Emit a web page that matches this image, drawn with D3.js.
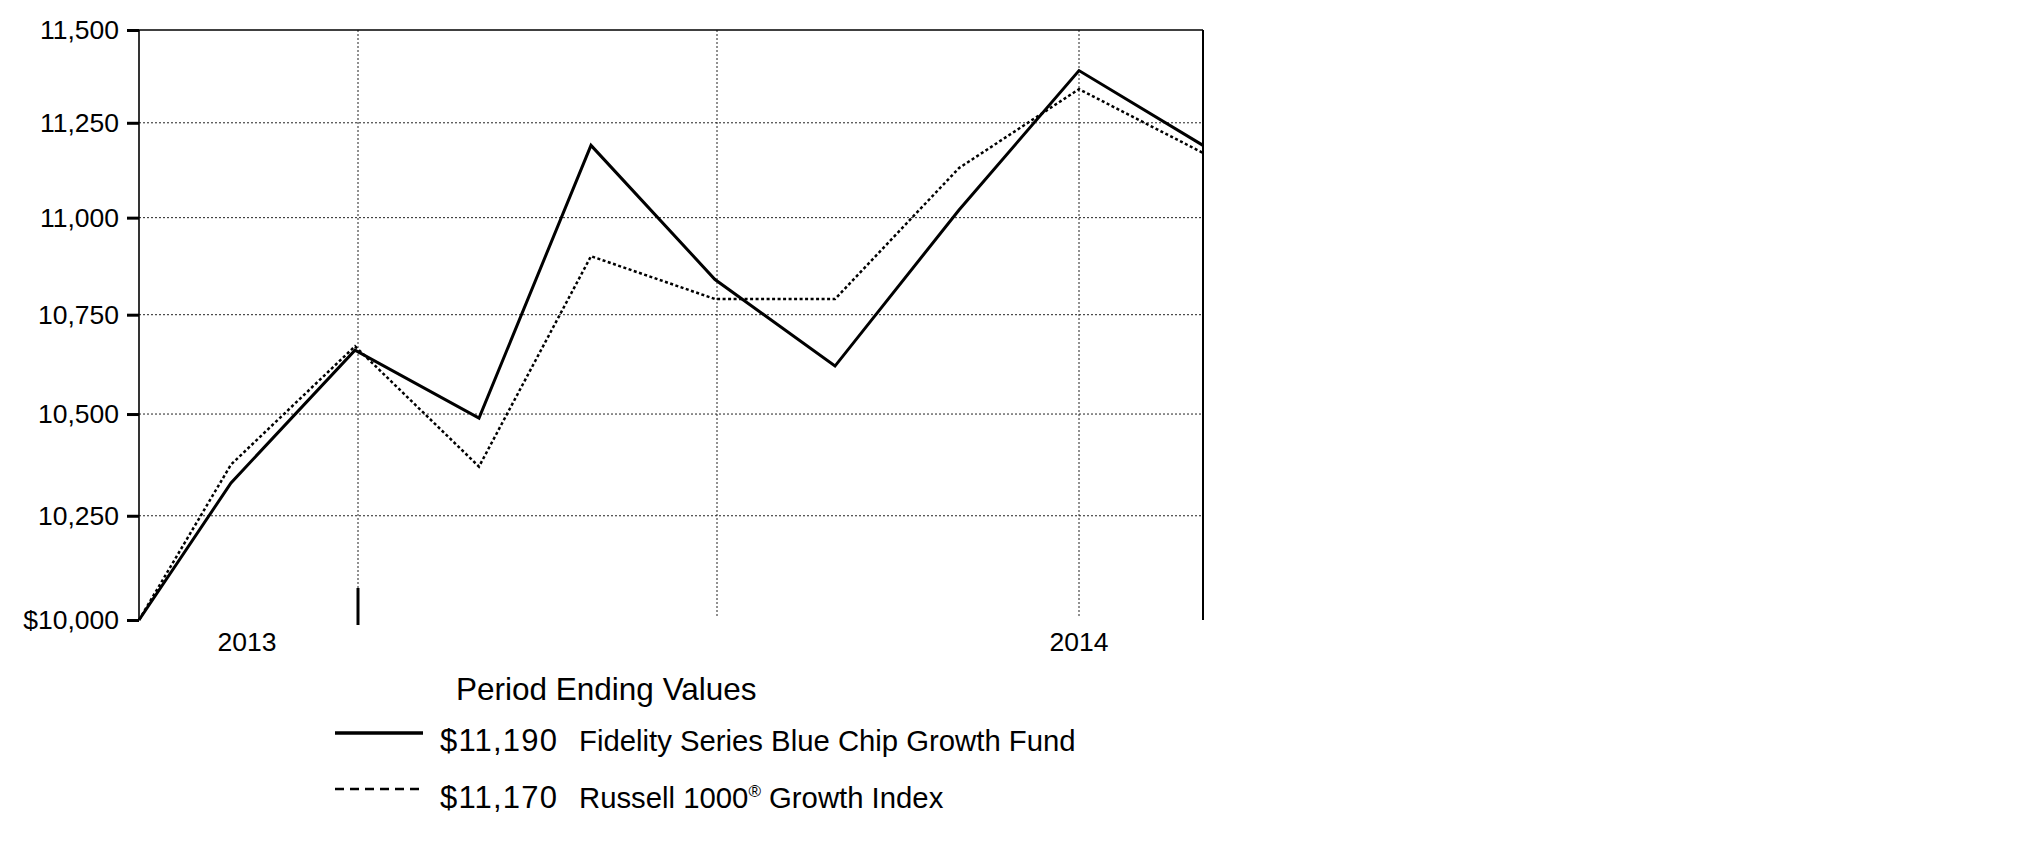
<!DOCTYPE html>
<html>
<head>
<meta charset="utf-8">
<script src="https://cdn.jsdelivr.net/npm/d3@7"></script>
<style>
  html, body { margin: 0; padding: 0; background: #fff; }
  svg { display: block; }
  text { font-family: "Liberation Sans", Arial, sans-serif; fill: #000; }
</style>
</head>
<body>
<svg id="chart" width="2025" height="851"></svg>
<script>
// ---- data ----
const dates = ["2013-11-07","2013-11-30","2013-12-31","2014-01-31","2014-02-28","2014-03-31","2014-04-30","2014-05-31","2014-06-30","2014-07-31"];
const fundValues  = [10000, 10330, 10660, 10490, 11190, 10840, 10620, 11020, 11390, 11190];
const indexValues = [10000, 10375, 10670, 10370, 10900, 10790, 10790, 11130, 11340, 11170];
const yTicks = [10000, 10250, 10500, 10750, 11000, 11250, 11500];
const gridDates = ["2013-12-31T18:00","2014-03-31T12:00","2014-06-30"];
const xLabels = ["2013", "2014"];
const xLabelDates = ["2013-12-04", "2014-06-30"];
const legendTitle = "Period Ending Values";
const seriesNames = ["Fidelity Series Blue Chip Growth Fund", "Russell 1000", "Growth Index"];
const endValues = ["$11,190", "$11,170"];

const parse = d => new Date(d);
const svg = d3.select("#chart");

const x = d3.scaleTime().domain([parse(dates[0]), parse(dates[dates.length-1])]).range([139, 1203]);
const y = d3.scaleLog().domain([10000, 11500]).range([620, 30]);

// horizontal gridlines
svg.append("g").selectAll("line").data(yTicks.filter(v => v > 10000 && v < 11500)).join("line")
  .attr("x1", x.range()[0]).attr("x2", x.range()[1])
  .attr("y1", d => y(d)).attr("y2", d => y(d))
  .attr("stroke", "#222").attr("stroke-width", 1).attr("stroke-dasharray", "2,2");

// vertical gridlines
svg.append("g").selectAll("line").data(gridDates).join("line")
  .attr("x1", d => x(parse(d))).attr("x2", d => x(parse(d)))
  .attr("y1", y(11500)).attr("y2", 616)
  .attr("stroke", "#222").attr("stroke-width", 1).attr("stroke-dasharray", "2,2");

// frame: top and right
svg.append("line").attr("x1", x.range()[0]).attr("x2", x.range()[1]).attr("y1", y(11500)).attr("y2", y(11500))
  .attr("stroke", "#000").attr("stroke-width", 1.6);
svg.append("line").attr("x1", x.range()[1]).attr("x2", x.range()[1]).attr("y1", y(11500)).attr("y2", y(10000))
  .attr("stroke", "#000").attr("stroke-width", 2);

// y axis
const yAxis = d3.axisLeft(y).tickValues(yTicks).tickSize(12).tickPadding(8)
  .tickFormat(d => (d === 10000 ? "$" : "") + d3.format(",")(d));
const gy = svg.append("g").attr("transform", `translate(${x.range()[0]},0)`).call(yAxis);
gy.select(".domain").attr("stroke", "#000").attr("stroke-width", 1.6).attr("d", `M0,${y(11500)}V${y(10000)}`);
gy.selectAll(".tick line").attr("stroke", "#000").attr("stroke-width", 3);
gy.selectAll(".tick text").attr("font-size", 26.5).attr("font-family", "Liberation Sans, Arial, sans-serif").attr("fill", "#000");

// special tick mark at first gridline
svg.append("line")
  .attr("x1", x(parse(gridDates[0]))).attr("x2", x(parse(gridDates[0])))
  .attr("y1", 588).attr("y2", 625).attr("stroke", "#000").attr("stroke-width", 3);

// x labels
svg.append("g").selectAll("text").data(xLabels).join("text")
  .attr("x", (d, i) => x(parse(xLabelDates[i]))).attr("y", 651)
  .attr("text-anchor", "middle").attr("font-size", 26.5).text(d => d);

// lines
const line = d3.line().x((d, i) => x(parse(dates[i]))).y(d => y(d));
svg.append("path").datum(indexValues).attr("d", line)
  .attr("fill", "none").attr("stroke", "#000").attr("stroke-width", 2.5).attr("stroke-dasharray", "3,2.5");
svg.append("path").datum(fundValues).attr("d", line)
  .attr("fill", "none").attr("stroke", "#000").attr("stroke-width", 3).attr("stroke-linejoin", "miter");

// legend
svg.append("text").attr("x", 456).attr("y", 700).attr("font-size", 31.5).text(legendTitle);
svg.append("line").attr("x1", 335).attr("x2", 423).attr("y1", 733).attr("y2", 733)
  .attr("stroke", "#000").attr("stroke-width", 3.5);
svg.append("line").attr("x1", 335).attr("x2", 423).attr("y1", 789).attr("y2", 789)
  .attr("stroke", "#000").attr("stroke-width", 2.5).attr("stroke-dasharray", "9,6");
svg.append("text").attr("x", 440).attr("y", 751).attr("font-size", 31).attr("letter-spacing", 1.2).text(endValues[0]);
svg.append("text").attr("x", 440).attr("y", 808).attr("font-size", 31).attr("letter-spacing", 1.2).text(endValues[1]);
svg.append("text").attr("x", 579).attr("y", 751).attr("font-size", 29.3).text(seriesNames[0]);
const t2 = svg.append("text").attr("x", 579).attr("y", 808).attr("font-size", 29.3);
t2.append("tspan").text(seriesNames[1]);
t2.append("tspan").attr("font-size", 17).attr("dy", -11).text("®");
t2.append("tspan").attr("dy", 11).text(" " + seriesNames[2]);
</script>
</body>
</html>
